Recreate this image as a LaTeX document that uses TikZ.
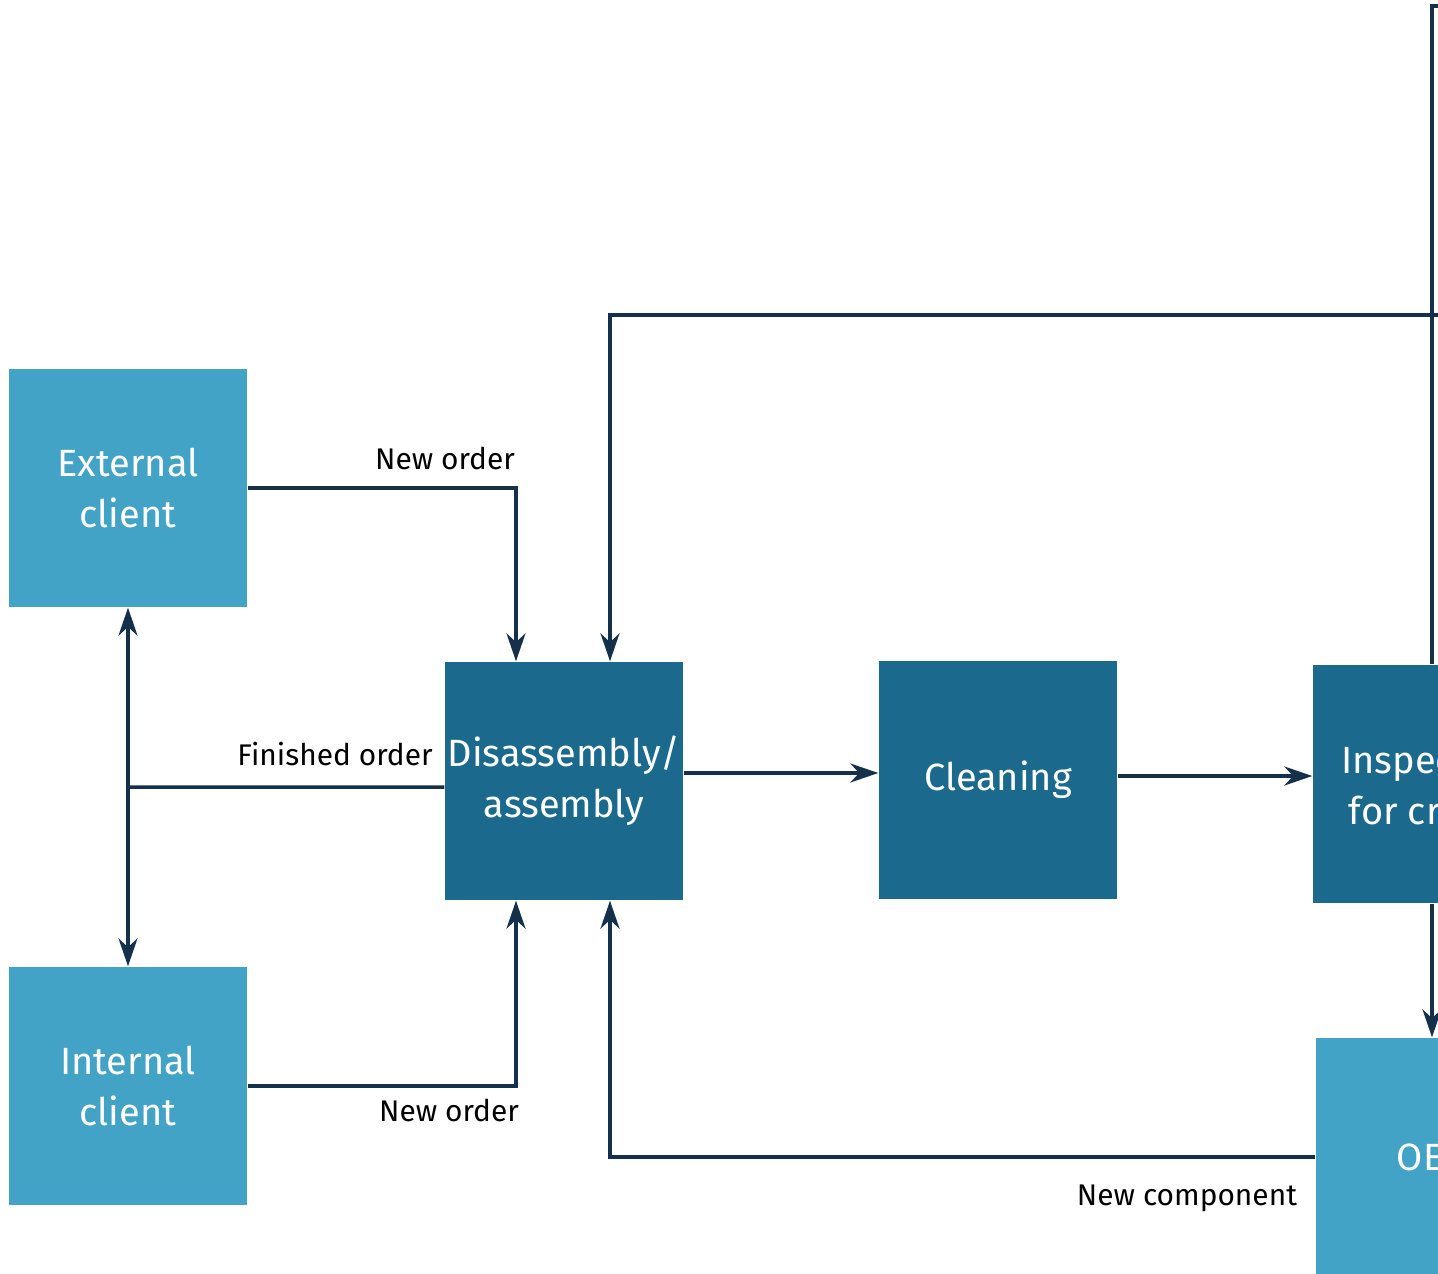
\documentclass[tikz,border=0pt]{standalone}
\usepackage{fontspec}
\setmainfont{Fira Sans}
\usetikzlibrary{arrows.meta}
\definecolor{clientblue}{HTML}{43A3C6}
\definecolor{stageblue}{HTML}{1B6A8D}
\definecolor{flowline}{HTML}{15304A}

\begin{document}
\begin{tikzpicture}[x=0.1mm,y=-0.1mm,
  >={Stealth[length=2.8mm,width=1.9mm,inset=0.9mm]},
  box/.style={minimum size=23.8mm, inner sep=0pt, align=center, text=white,
    font=\fontsize{10.8}{14.5}\selectfont},
  client/.style={box, fill=clientblue},
  stage/.style={box, fill=stageblue},
  line/.style={draw=flowline, line width=1pt},
  flow/.style={line, ->},
  lbl/.style={font=\fontsize{8.5}{10}\selectfont, text=black}]
\useasboundingbox (0,0) rectangle (1438,1274);
\clip (0,0) rectangle (1438,1274);
\node[client] (ext) at (128,488) {External\\client};
\node[client] (int) at (128,1086) {Internal\\client};
\node[stage] (dis) at (564,781) {Disassembly/\\assembly};
\node[stage] (cln) at (998,780) {Cleaning};
\node[stage] (insp) at (1432,784) {Inspection\\for cracks};
\node[client] (oem) at (1435,1157) {OEM};
\coordinate (split) at (128,787);
\coordinate (back) at (1500,315);
\coordinate (exit) at (1500,6);
\draw[flow] (ext.east) -| ([xshift=-4.8mm]dis.north);
\draw[flow] (int.east) -| ([xshift=-4.8mm]dis.south);
\draw[flow] (back) -| ([xshift=4.6mm]dis.north);
\draw[flow] (oem.west) -| ([xshift=4.6mm]dis.south);
\draw[line] ([yshift=-0.6mm]dis.west) -- (split);
\draw[line, <->] (ext.south) -- (int.north);
\draw[flow] ([yshift=0.8mm]dis.east) -- ([yshift=0.8mm]dis.east -| cln.west);
\draw[flow] ([yshift=0.4mm]cln.east) -- ([yshift=0.4mm]cln.east -| insp.west);
\draw[flow] (insp.south) -- (insp.south |- oem.north);
\draw[line] (insp.north) |- (exit);
\node[lbl] at (445,458) {New order};
\node[lbl] at (449,1110) {New order};
\node[lbl] at (335,754) {Finished order};
\node[lbl] at (1187,1198) {New component};
\end{tikzpicture}
\end{document}
